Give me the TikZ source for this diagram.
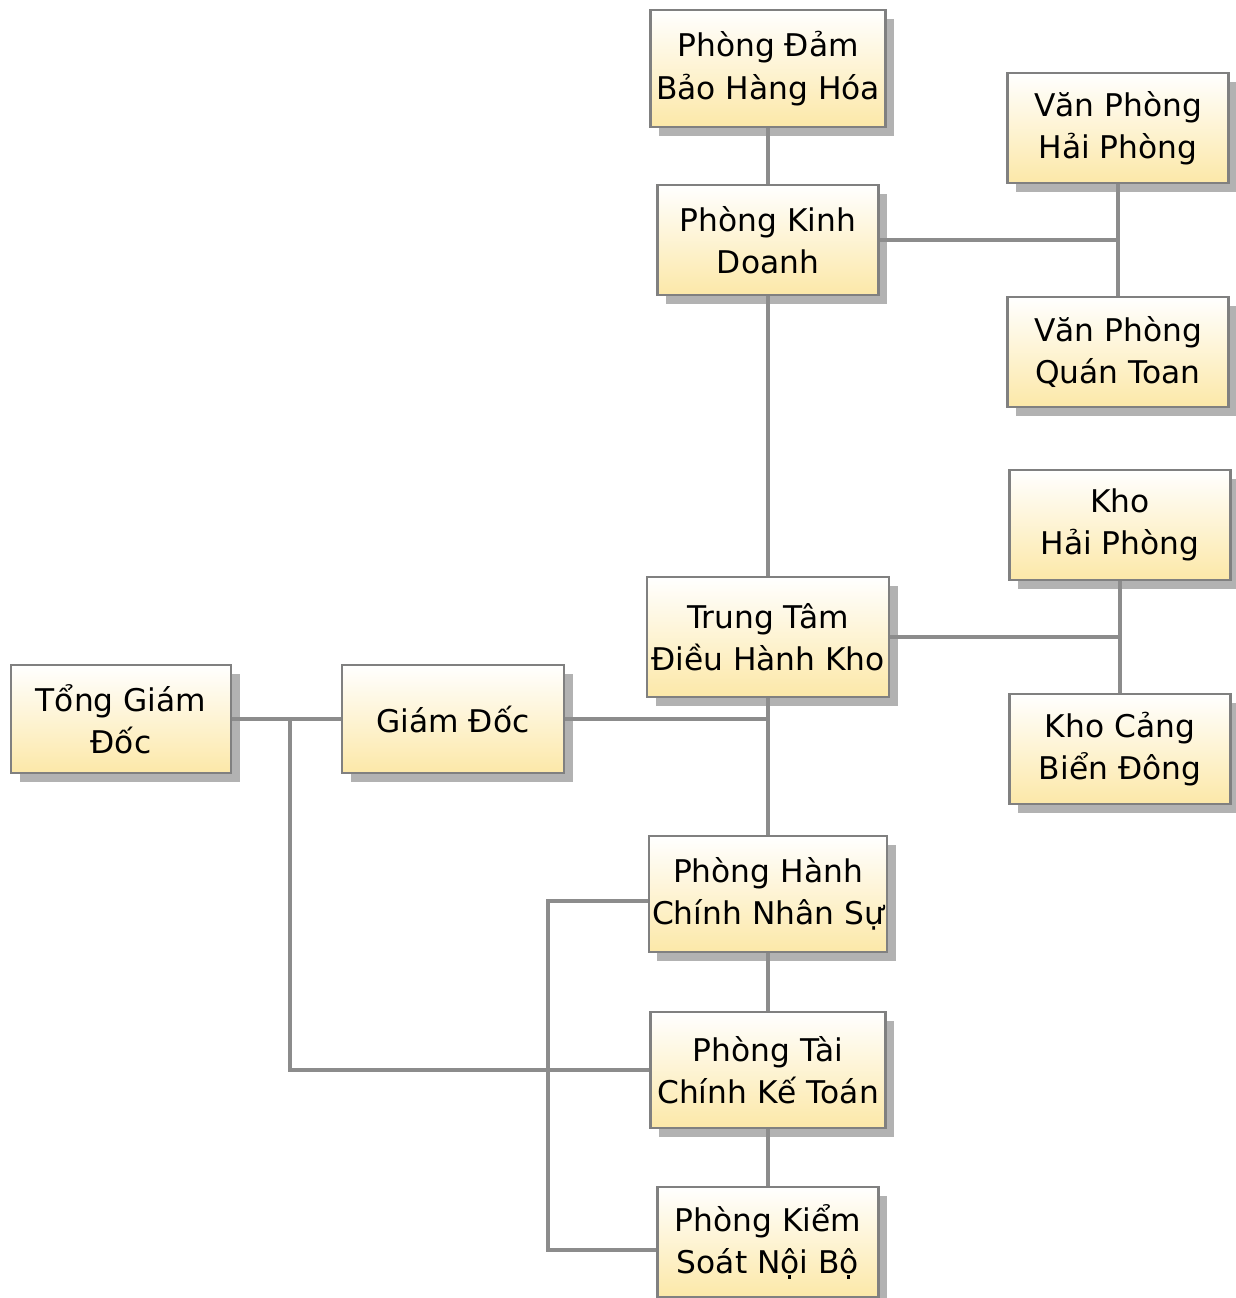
\documentclass[tikz,border=0pt]{standalone}
\usepackage{fontspec}
\setmainfont{DejaVu Sans}
\usepackage{tikz}
\usetikzlibrary{shadows}
\definecolor{boxline}{RGB}{128, 128, 128}
\definecolor{linkgray}{RGB}{140, 140, 140}
\definecolor{boxcream}{RGB}{252, 232, 168}

\tikzset{
  box/.style={draw=boxline, line width=0.6pt, top color=white, bottom color=boxcream,
    minimum width=2.21cm, minimum height=1.10cm, align=center, inner sep=1pt,
    font=\fontsize{8.9}{12}\selectfont,
    drop shadow={shadow xshift=2.5pt, shadow yshift=-2.5pt, fill=black, opacity=0.3}},
  link/.style={draw=linkgray, line width=0.9pt}
}

\begin{document}
\begin{tikzpicture}[xscale=1, yscale=-1]
   \useasboundingbox (0,0) rectangle (12.36,12.98);

   \draw[]
    (7.68,0.685) node[box, minimum width=2.35cm, minimum height=1.17cm](dbhh) {Phòng Đảm\\Bảo Hàng Hóa}
    (7.68,2.40) node[box](kd) {Phòng Kinh\\Doanh}
    (11.18,1.28) node[box](vphp) {Văn Phòng\\Hải Phòng}
    (11.18,3.52) node[box](vpqt) {Văn Phòng\\Quán Toan}
    (11.20,5.25) node[box](khp) {Kho\\Hải Phòng}
    (11.20,7.49) node[box](kcbd) {Kho Cảng\\Biển Đông}
    (7.68,6.37) node[box, minimum width=2.42cm, minimum height=1.20cm](ttdh) {Trung Tâm\\Điều Hành Kho}
    (1.21,7.19) node[box, minimum width=2.20cm, minimum height=1.08cm](tgd) {Tổng Giám\\Đốc}
    (4.53,7.19) node[box, minimum width=2.22cm, minimum height=1.08cm](gd) {Giám Đốc}
    (7.68,8.94) node[box, minimum width=2.35cm, minimum height=1.16cm](hcns) {Phòng Hành\\Chính Nhân Sự}
    (7.68,10.70) node[box, minimum width=2.35cm, minimum height=1.16cm](tckt) {Phòng Tài\\Chính Kế Toán}
    (7.68,12.42) node[box](ksnb) {Phòng Kiểm\\Soát Nội Bộ};

   % vertical spine
   \draw[link]
    (dbhh.south) -- (kd.north)
    (kd.south) -- (ttdh.north)
    (ttdh.south) -- (hcns.north)
    (hcns.south) -- (tckt.north)
    (tckt.south) -- (ksnb.north);

   % offices and stores
   \draw[link] (kd.east) -- (kd.east -| vphp.south);
   \draw[link] (vphp.south) -- (vpqt.north);
   \draw[link] (ttdh.east) -- (ttdh.east -| khp.south);
   \draw[link] (khp.south) -- (kcbd.north);

   % directors
   \draw[link] (gd.east) -- (gd.east -| ttdh.south);
   \draw[link] (tgd.east) -- (gd.west);
   \coordinate (tgdj) at (2.90,7.20);
   \draw[link] (tgdj) |- (tckt.west);
   \coordinate (hcj) at (5.48,9.01);
   \coordinate (ksj) at (5.48,12.50);
   \draw[link] (hcns.west |- hcj) -- (hcj) -- (ksj) -- (ksnb.west |- ksj);

  \end{tikzpicture}
\end{document}
